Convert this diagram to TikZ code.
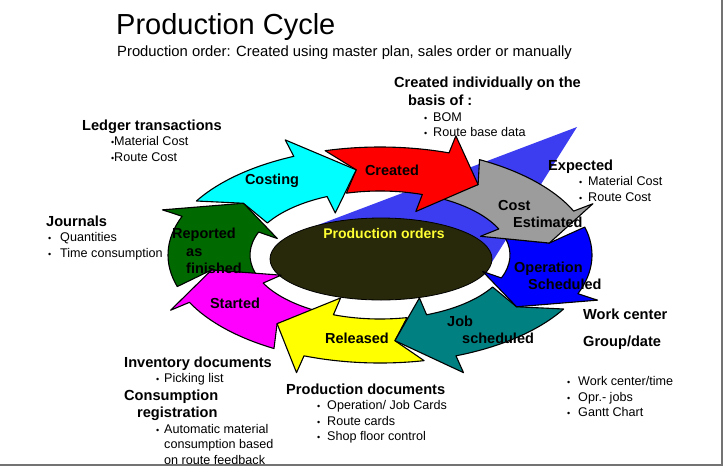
\documentclass[tikz,border=0pt]{standalone}
\usepackage{fontspec}
\setmainfont{Liberation Sans}
\usepackage{xcolor}
\usetikzlibrary{positioning, calc}

\definecolor{costcyan}{HTML}{00FFFF}
\definecolor{createdred}{HTML}{FF0000}
\definecolor{estgray}{HTML}{9C9C9C}
\definecolor{opblue}{HTML}{0000FF}
\definecolor{jobteal}{HTML}{008080}
\definecolor{relyellow}{HTML}{FFFF00}
\definecolor{startmag}{HTML}{FF00FF}
\definecolor{repgreen}{HTML}{006A00}
\definecolor{cometblue}{HTML}{3C3CF0}
\definecolor{orderdark}{HTML}{28280A}
\definecolor{ordertext}{HTML}{FFFF33}

\tikzset{
  stepline/.style={draw=black, line width=1.1pt, line join=round},
  steplabel/.style={font=\fontsize{14.5}{17.5}\selectfont\bfseries, align=left, inner sep=0pt},
  notes/.style={font=\fontsize{12.6}{15.5}\selectfont, align=left, anchor=north west, inner sep=0pt},
}
\newcommand{\hd}[1]{{\fontsize{14.6}{15.5}\selectfont\bfseries #1}}
\newcommand{\itm}[2][10pt]{\makebox[#1][l]{\fontsize{9}{9}\selectfont\textbullet}#2}

% one curved step of the ring: #1 colour, #2 tail angle, #3 tip angle
\newcommand{\cyclestep}[3]{%
  \filldraw[stepline, fill=#1]
    ($(ctr)+(#2:212pt and 108pt)$)
      arc[start angle=#2, end angle=#3+16, x radius=212pt, y radius=108pt]
    -- ($(ctr)+(#3+16:233pt and 126pt)$)
    -- ($(ctr)+(#3:171pt and 86pt)$)
    -- ($(ctr)+(#3+16:110pt and 46pt)$)
    -- ($(ctr)+(#3+16:130pt and 64pt)$)
      arc[start angle=#3+16, end angle=#2, x radius=130pt, y radius=64pt]
    -- ($(ctr)+(#2-7:171pt and 86pt)$)
    -- cycle;}

\begin{document}
\begin{tikzpicture}[x=1pt, y=1pt]
  % page and frame
  \fill[white] (0,0) rectangle (728,-472);
  \useasboundingbox (0,0) rectangle (728,-472);
  \draw[black!55, line width=2pt] (0,-465) -- (722,-465) -- (722,0);

  % title
  \node[anchor=west, inner sep=0pt, font=\fontsize{29}{32}\selectfont] (title) at (116,-27) {Production Cycle};
  \node[anchor=west, inner sep=0pt, font=\fontsize{14.8}{16}\selectfont] (subtitle) at (117,-53) {Production order: Created using master plan, sales order or manually};

  \coordinate (ctr) at (380,-255);

  % blue sweep behind the ring
  \fill[cometblue] (318,-225) -- (577,-127) -- (492,-262) -- (400,-280) -- cycle;

  % production orders
  \filldraw[fill=orderdark, draw=black, line width=0.8pt] (381,-259) ellipse [x radius=111pt, y radius=41pt];
  \node[font=\fontsize{14}{16}\selectfont\bfseries, text=ordertext] (orders) at (384,-233) {Production orders};

  % ring of steps, drawn against the flow
  \cyclestep{repgreen}{197}{143}
  \cyclestep{startmag}{-120}{-170}
  \cyclestep{relyellow}{-78}{-127}
  \cyclestep{jobteal}{-30}{-85}
  \cyclestep{opblue}{15}{-37}
  \cyclestep{estgray}{62}{8}
  \cyclestep{createdred}{105}{55}
  \cyclestep{costcyan}{150}{98}

  % step names
  \node[steplabel] (costing) at (272,-181) {Costing};
  \node[steplabel] (created) at (392,-170) {Created};
  \node[steplabel, anchor=west] (estimated) at (498,-214) {Cost\\\hspace*{15pt}Estimated};
  \node[steplabel, anchor=west] (opsched) at (514,-276) {Operation\\\hspace*{14pt}Scheduled};
  \node[steplabel, anchor=west] (jobsched) at (447,-330) {Job\\\hspace*{15pt}scheduled};
  \node[steplabel] (released) at (357,-338) {Released};
  \node[steplabel] (started) at (235,-303) {Started};
  \node[steplabel, anchor=west] (reported) at (172,-251) {Reported\\\hspace*{14pt}as\\\hspace*{14pt}finished};

  % notes round the ring
  \node[notes] (basis) at (394,-76.5) {\hd{Created individually on the}\\[3pt]
    \hspace*{14pt}\hd{basis of :}\\
    \hspace*{30pt}\itm[9pt]{BOM}\\
    \hspace*{30pt}\itm[9pt]{Route base data}};
  \node[notes] (ledger) at (82,-119.5) {\hd{Ledger transactions}\\
    \hspace*{29pt}\itm[3pt]{Material Cost}\\
    \hspace*{29pt}\itm[3pt]{Route Cost}};
  \node[notes] (expected) at (548,-159.5) {\hd{Expected}\\
    \hspace*{31pt}\itm[9pt]{Material Cost}\\
    \hspace*{31pt}\itm[9pt]{Route Cost}};
  \node[notes] (journals) at (46,-215.5) {\hd{Journals}\\
    \hspace*{2pt}\itm[12pt]{Quantities}\\
    \hspace*{2pt}\itm[12pt]{Time consumption}};
  \node[notes] (inventory) at (124,-356.5) {\hd{Inventory documents}\\
    \hspace*{32pt}\itm[8pt]{Picking list}\\[2pt]
    \hd{Consumption}\\[2pt]
    \hspace*{13pt}\hd{registration}\\
    \hspace*{32pt}\itm[8pt]{Automatic material}\\
    \hspace*{40pt}consumption based\\
    \hspace*{40pt}on route feedback};
  \node[notes] (proddocs) at (286,-383.5) {\hd{Production documents}\\
    \hspace*{31pt}\itm{Operation/ Job Cards}\\
    \hspace*{31pt}\itm{Route cards}\\
    \hspace*{31pt}\itm{Shop floor control}};
  \node[notes, font=\fontsize{14.6}{27}\selectfont\bfseries] (workcenter) at (583,-308.5) {Work center\\Group/date};
  \node[notes] (planning) at (567,-376.5) {\itm[11pt]{Work center/time}\\
    \itm[11pt]{Opr.- jobs}\\
    \itm[11pt]{Gantt Chart}};
\end{tikzpicture}
\end{document}
